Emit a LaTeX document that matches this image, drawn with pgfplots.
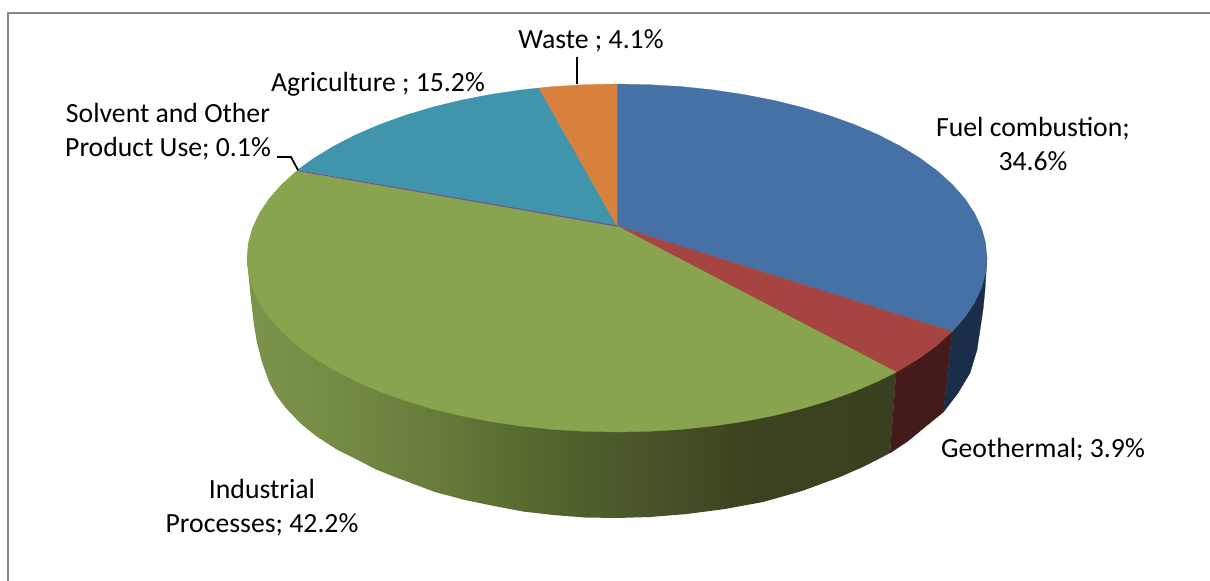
\documentclass[border=0pt]{standalone}
\usepackage{fontspec}
\setmainfont{Carlito}
\usepackage{pgfplots}
\pgfplotsset{compat=1.18}

\definecolor{fuel}{HTML}{4671A6}
\definecolor{geo}{HTML}{A64442}
\definecolor{indus}{HTML}{89A44E}
\definecolor{solvent}{HTML}{71588F}
\definecolor{agri}{HTML}{4095AD}
\definecolor{waste}{HTML}{D7813C}
\definecolor{fuelside}{HTML}{1A2E49}
\definecolor{geoside}{HTML}{441B1A}
\definecolor{frameline}{HTML}{868686}

% side of the big slice, dark to the right (path box runs 25bp to 75bp)
\pgfdeclarehorizontalshading{indusside}{100bp}{
  rgb(0bp)=(0.49,0.58,0.30);
  rgb(25bp)=(0.49,0.58,0.30);
  rgb(31bp)=(0.46,0.55,0.27);
  rgb(39bp)=(0.41,0.49,0.23);
  rgb(48bp)=(0.33,0.40,0.18);
  rgb(56bp)=(0.28,0.33,0.16);
  rgb(64bp)=(0.23,0.26,0.12);
  rgb(75bp)=(0.22,0.25,0.12);
  rgb(100bp)=(0.22,0.25,0.12)}

\newcommand{\lab}{\fontsize{20.8}{25.5}\selectfont}

\begin{document}
\begin{tikzpicture}
\begin{axis}[
  scale only axis, width=907.5pt, height=435.75pt,
  xmin=0, xmax=1210, ymin=0, ymax=581,
  y dir=reverse,
  hide axis,
  nodes={font=\lab, align=center, inner sep=0pt, text=black},
]
% page background and the frame, left and top only
\addplot[fill=white, draw=none] coordinates {(0,0) (1210,0) (1210,581) (0,581)} -- cycle;
\addplot[frameline, line width=1.6pt] coordinates {(8,581) (8,13) (1210,13)};

% sides, drawn first; the top face covers their upper edge
\addplot[shade, shading=indusside, draw=none] coordinates {
  (896.2,372.2) (890,453) (865,466) (840,477) (802,491) (763,502) (725,509) (687,514)
  (650,517) (617,518) (585,517.5) (553,515) (523,511.5) (494,506) (465,500) (435,492)
  (395,477) (375,469) (356,459) (336,449) (316,436) (300,423) (285,407) (276,395)
  (269,382) (262,362) (257,343) (254,325) (251,300) (249,280) (247,258)} -- cycle;
\addplot[fill=geoside, draw=geoside, line width=.2pt] coordinates {
  (896.2,372.2) (952.3,331.5) (943.5,412) (925,427) (908,441) (890,453)} -- cycle;
\addplot[fill=fuelside, draw=fuelside, line width=.2pt] coordinates {
  (952.3,331.5) (987,258) (985,290) (983,310) (977,350) (970,373) (958,393) (943.5,412)} -- cycle;

% top face: Fuel combustion 34.6
\addplot[fill=fuel, draw=fuel, line width=.2pt] coordinates {
  (617,226) (617,84) (649.2,84.7) (681.2,86.6) (712.8,89.9) (743.5,94.5) (773.4,100.3)
  (802,107.3) (829.2,115.5) (854.8,124.7) (878.6,135) (900.4,146.2) (920.1,158.2)
  (937.4,171) (952.3,184.5) (964.7,198.5) (974.4,213) (981.4,227.8) (985.6,242.8)
  (987,258) (985.6,273.2) (981.4,288.2) (974.4,303) (964.7,317.5) (952.3,331.5)} -- cycle;
% Geothermal 3.9
\addplot[fill=geo, draw=geo, line width=.2pt] coordinates {
  (617,226) (952.3,331.5) (937.4,345) (920.1,357.8) (900.4,369.8) (896.2,372.2)} -- cycle;
% Industrial Processes 42.2
\addplot[fill=indus, draw=indus, line width=.2pt] coordinates {
  (617,226) (896.2,372.2) (878.6,381) (854.8,391.3) (829.2,400.5) (802,408.7) (773.4,415.7)
  (743.5,421.5) (712.8,426.1) (681.2,429.4) (649.2,431.3) (617,432) (584.8,431.3)
  (552.8,429.4) (521.2,426.1) (490.5,421.5) (460.6,415.7) (432,408.7) (404.8,400.5)
  (379.2,391.3) (355.4,381) (333.6,369.8) (313.9,357.8) (296.6,345) (281.7,331.5)
  (269.3,317.5) (259.6,303) (252.6,288.2) (248.4,273.2) (247,258) (248.4,242.8)
  (252.6,227.8) (259.6,213) (269.3,198.5) (281.7,184.5) (296.6,171)} -- cycle;
% Agriculture 15.2
\addplot[fill=agri, draw=agri, line width=.2pt] coordinates {
  (617,226) (297.5,170) (313.9,158.2) (333.6,146.2) (355.4,135) (379.2,124.7) (404.8,115.5)
  (432,107.3) (460.6,100.3) (490.5,94.5) (521.2,89.9) (539,88)} -- cycle;
% Waste 4.1
\addplot[fill=waste, draw=waste, line width=.2pt] coordinates {
  (617,226) (539,88) (552.8,86.6) (584.8,84.7) (617,84)} -- cycle;
% Solvent 0.1, only a sliver
\addplot[solvent, line width=.9pt] coordinates {(617,226) (297,170.5)};

% leader lines
\addplot[black, line width=1.3pt] coordinates {(577,57) (577,84)};
\addplot[black, line width=1.3pt] coordinates {(277,157) (291,157) (298,170)};

\node at (axis cs:591,41) {Waste ; 4.1\%};
\node at (axis cs:378,84) {Agriculture ; 15.2\%};
\node at (axis cs:168,132) {Solvent and Other\\Product Use; 0.1\%};
\node at (axis cs:1033,144) {Fuel combustion;\\34.6\%};
\node at (axis cs:1043,450) {Geothermal; 3.9\%};
\node at (axis cs:262,508) {Industrial\\Processes; 42.2\%};
\end{axis}
\end{tikzpicture}
\end{document}
